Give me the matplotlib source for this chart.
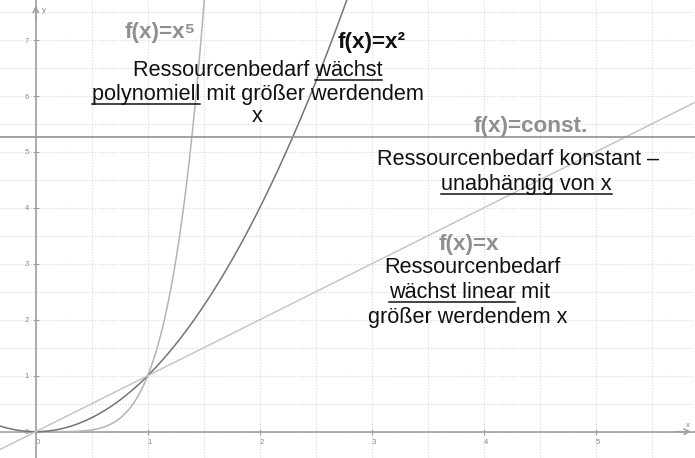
"""
Wachstum des Ressourcenbedarfs: konstant, linear, polynomiell
"""

import numpy as np
import matplotlib.pyplot as plt

plt.rcParams['font.family'] = ['Liberation Sans', 'DejaVu Sans']

# ============================================================
# DATA
# ============================================================

exponents = [5, 2, 1]          # f(x)=x^5, f(x)=x^2, f(x)=x
curve_colors = ['#b4b4b4', '#747474', '#c6c6c6']
const_level = 5.26             # f(x)=const.

x_ticks = [0, 1, 2, 3, 4, 5]
y_ticks = [0, 1, 2, 3, 4, 5, 6, 7]

XMIN, XMAX = -0.319, 5.887
YMIN, YMAX = -0.47, 7.716

# text blocks: (x, y_baseline, text, underlined part or None, bold, color)
labels = [
    (1.11, 7.04, 'f(x)=x\u2075', None, True, '#8f8f8f'),
    (3.00, 6.86, 'f(x)=x\u00b2', None, True, '#111111'),
    (1.98, 6.36, 'Ressourcenbedarf wächst', 'wächst', False, '#111111'),
    (1.98, 5.93, 'polynomiell mit größer werdendem', 'polynomiell', False, '#111111'),
    (1.98, 5.54, 'x', None, False, '#111111'),
    (4.42, 5.36, 'f(x)=const.', None, True, '#8f8f8f'),
    (4.31, 4.77, 'Ressourcenbedarf konstant –', None, False, '#111111'),
    (4.38, 4.32, 'unabhängig von x', 'unabhängig von x', False, '#111111'),
    (3.87, 3.25, 'f(x)=x', None, True, '#8f8f8f'),
    (3.90, 2.84, 'Ressourcenbedarf', None, False, '#111111'),
    (3.87, 2.39, 'wächst linear mit', 'wächst linear', False, '#111111'),
    (3.86, 1.94, 'größer werdendem x', None, False, '#111111'),
]

# ============================================================
# PLOT
# ============================================================

fig = plt.figure(figsize=(6.95, 4.58), dpi=100)
ax = fig.add_axes([0, 0, 1, 1])

axis_grey = '#a0a0a0'

# grid every 0.5
ax.set_xticks(x_ticks)
ax.set_yticks(y_ticks)
ax.set_xticks(np.arange(-0.5, 6.01, 0.5), minor=True)
ax.set_yticks(np.arange(-0.5, 8.01, 0.5), minor=True)
ax.grid(True, which='both', color='#d8d8d8', linestyle=(0, (1, 1.5)), linewidth=0.8)
ax.set_axisbelow(True)

# axes through origin
for side in ['top', 'right']:
    ax.spines[side].set_visible(False)
for side in ['left', 'bottom']:
    ax.spines[side].set_position(('data', 0))
    ax.spines[side].set_color(axis_grey)
    ax.spines[side].set_linewidth(1.2)
ax.tick_params(which='major', direction='inout', length=4, width=0.8, color=axis_grey,
               labelsize=5.5, labelcolor='#888888', pad=3)
ax.tick_params(which='minor', length=0)
ax.set_xticklabels([str(v) for v in x_ticks])
ax.set_yticklabels([str(v) for v in y_ticks])
for lbl in ax.get_xticklabels():
    lbl.set_horizontalalignment('left')

ax.annotate('', xy=(XMAX - 0.01, 0), xytext=(XMAX - 0.2, 0),
            arrowprops=dict(arrowstyle='->', color=axis_grey, lw=1.1))
ax.annotate('', xy=(0, YMAX - 0.05), xytext=(0, YMAX - 0.4),
            arrowprops=dict(arrowstyle='->', color=axis_grey, lw=1.1))
ax.text(XMAX - 0.06, 0.05, 'x', fontsize=5.5, color='#888888', ha='center', va='bottom')
ax.text(0.06, YMAX - 0.25, 'y', fontsize=5.5, color='#888888', ha='left', va='bottom')

# curves
x = np.linspace(XMIN, XMAX, 800)
for p, c in zip(exponents, curve_colors):
    ax.plot(x, x ** p, color=c, linewidth=1.1, zorder=3)
ax.axhline(const_level, color='#9a9a9a', linewidth=1.3, zorder=3)
# limits last, set_xticks and plotting would widen them
ax.set_xlim(XMIN, XMAX)
ax.set_ylim(YMIN, YMAX)

# texts with underlines
fig.canvas.draw()
renderer = fig.canvas.get_renderer()
for tx, ty, s, under, bold, col in labels:
    t = ax.text(tx, ty, s, ha='center', va='baseline', fontsize=16.2 if bold else 15.6,
                fontweight='bold' if bold else 'normal', color=col, zorder=5)
    if under is None:
        continue
    prop = t.get_fontproperties()
    full_w = renderer.get_text_width_height_descent(s, prop, ismath=False)[0]
    bar_w = renderer.get_text_width_height_descent('|', prop, ismath=False)[0]
    i = s.index(under)
    pre_w = renderer.get_text_width_height_descent(s[:i] + '|', prop, ismath=False)[0] - bar_w
    sub_w = renderer.get_text_width_height_descent(under, prop, ismath=False)[0]
    cx, by = ax.transData.transform((tx, ty))
    left = cx - full_w / 2 + pre_w
    pts = ax.transData.inverted().transform([(left, by - 4), (left + sub_w, by - 4)])
    ax.plot(pts[:, 0], pts[:, 1], color=col, linewidth=1.1, zorder=5)
ax.set_xlim(XMIN, XMAX)
ax.set_ylim(YMIN, YMAX)

fig.savefig('out.png', dpi=100, facecolor='white')
